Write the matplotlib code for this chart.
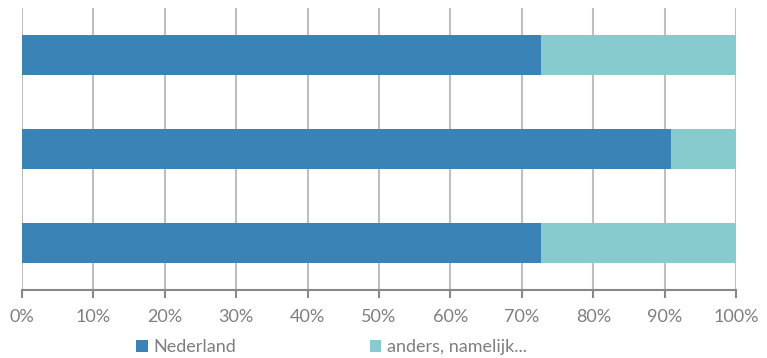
import matplotlib.pyplot as plt
import numpy as np
from matplotlib.ticker import PercentFormatter

plt.rcParams['font.family'] = ['Lato', 'DejaVu Sans']

# data (shares per bar, top to bottom)
categories = ['rij 1', 'rij 2', 'rij 3']
nederland = [72.7, 90.9, 72.7]
anders = [27.3, 9.1, 27.3]
series_names = ['Nederland', 'anders, namelijk...']
colors = ['#3a83b6', '#88cbcf']

fig = plt.figure(figsize=(7.67, 3.58), dpi=100)
ax = fig.add_axes([22/767, 68/358, 714/767, 282/358])

y = np.arange(len(categories))
h = 0.415
ax.barh(y, nederland, height=h, color=colors[0], label=series_names[0], zorder=3)
ax.barh(y, anders, left=nederland, height=h, color=colors[1], label=series_names[1], zorder=3)

ax.set_ylim(len(categories) - 0.5, -0.5)
ax.set_xlim(0, 100)
ax.set_xticks(np.arange(0, 101, 10))
ax.xaxis.set_major_formatter(PercentFormatter(decimals=0))
ax.set_yticks([])
ax.grid(axis='x', color='#bfbfbf', linewidth=1.5, zorder=0)
for s in ['top', 'right', 'left']:
    ax.spines[s].set_visible(False)
ax.spines['bottom'].set_color('#888888')
ax.spines['bottom'].set_linewidth(1.5)
ax.tick_params(axis='x', colors='#888888', length=6, width=1.5, labelsize=13,
               labelcolor='#7f7f7f', pad=8)

leg = fig.legend(loc='center', bbox_to_anchor=(0.432, 0.03), ncol=2, frameon=False,
                 fontsize=13, handlelength=0.65, handleheight=0.65, handletextpad=0.3,
                 columnspacing=7.4)
for t in leg.get_texts():
    t.set_color('#7f7f7f')

fig.savefig('out.png', dpi=100)
